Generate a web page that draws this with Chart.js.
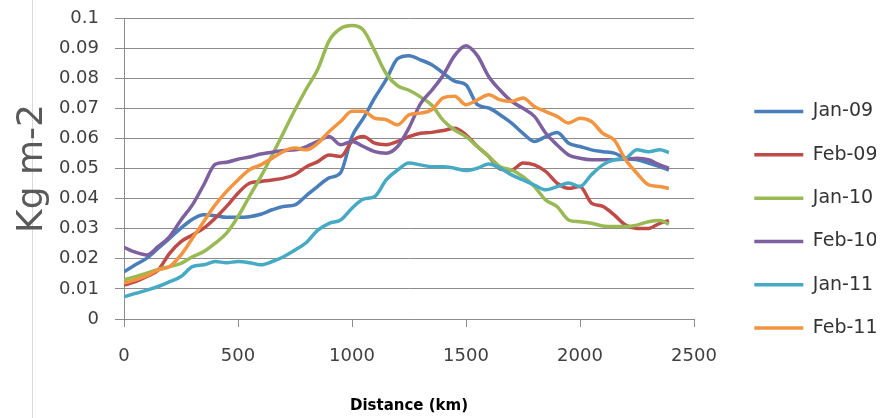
<!DOCTYPE html>
<html><head><meta charset="utf-8">
<script src="https://cdn.jsdelivr.net/npm/chart.js@4"></script>
<style>
html,body{margin:0;padding:0;background:#fff;}
#wrap{position:relative;width:889px;height:418px;}
#edge{position:absolute;left:32px;top:0;width:1px;height:418px;background:#d9d9d9;}
canvas{position:absolute;left:0;top:0;}
</style></head><body>
<div id="wrap"><div id="edge"></div><canvas id="c" width="889" height="418"></canvas></div>
<script>
const distanceKm = [0,50,100,150,200,250,300,350,400,450,500,550,600,650,700,750,800,850,900,950,1000,1050,1100,1150,1200,1250,1300,1350,1400,1450,1500,1550,1600,1650,1700,1750,1800,1850,1900,1950,2000,2050,2100,2150,2200,2250,2300,2350,2390];
const seriesNames = ['Jan-09','Feb-09','Jan-10','Feb-10','Jan-11','Feb-11'];
const seriesColors = ['#4A7EBB','#BE4B48','#98B954','#7D60A0','#46AAC5','#F39440'];
const jan09 = [0.0157,0.018,0.0202,0.0235,0.0268,0.0302,0.0331,0.0346,0.0343,0.0338,0.0338,0.034,0.0348,0.0363,0.0374,0.0379,0.041,0.0441,0.0469,0.0486,0.0606,0.0667,0.0735,0.0795,0.0865,0.0875,0.0861,0.0845,0.0817,0.079,0.0778,0.0712,0.0701,0.0678,0.0651,0.0617,0.059,0.0606,0.062,0.0584,0.0573,0.0562,0.0556,0.0551,0.0534,0.0529,0.0518,0.0506,0.0495];
const feb09 = [0.0113,0.0124,0.0141,0.0163,0.0218,0.0257,0.0279,0.0302,0.0335,0.0374,0.0418,0.0451,0.0457,0.0462,0.0468,0.048,0.0506,0.0523,0.0545,0.054,0.059,0.0606,0.0584,0.0579,0.059,0.0606,0.0617,0.062,0.0626,0.0634,0.0612,0.0573,0.054,0.0498,0.0495,0.0518,0.0512,0.049,0.0451,0.0434,0.044,0.0385,0.0374,0.0346,0.0312,0.0301,0.0301,0.0318,0.0327];
const jan10 = [0.013,0.0141,0.0152,0.0165,0.0174,0.0185,0.0207,0.0224,0.0252,0.0285,0.034,0.0407,0.0473,0.0545,0.062,0.0695,0.0765,0.083,0.0925,0.0965,0.0975,0.096,0.089,0.0815,0.0775,0.076,0.0738,0.071,0.066,0.0628,0.0606,0.0573,0.054,0.0506,0.0495,0.0473,0.044,0.0395,0.0373,0.0329,0.0323,0.0318,0.0309,0.0307,0.0307,0.0312,0.0323,0.0327,0.0315];
const feb10 = [0.0238,0.0222,0.0213,0.0241,0.0274,0.0329,0.0379,0.0446,0.0514,0.0521,0.0531,0.0538,0.0548,0.0554,0.056,0.0562,0.0573,0.059,0.0606,0.0579,0.059,0.0573,0.0556,0.0551,0.0573,0.0635,0.0715,0.076,0.081,0.0875,0.0908,0.0875,0.0805,0.076,0.0723,0.07,0.0673,0.0617,0.0578,0.0545,0.0534,0.0529,0.0529,0.0529,0.0531,0.0534,0.0529,0.0512,0.0501];
const jan11 = [0.0074,0.0085,0.0096,0.0108,0.0124,0.0141,0.0174,0.018,0.0191,0.0187,0.0191,0.0187,0.018,0.0191,0.0207,0.0229,0.0254,0.0295,0.0318,0.0329,0.0368,0.0398,0.0407,0.0462,0.0495,0.0518,0.0512,0.0506,0.0506,0.0501,0.0493,0.0501,0.0515,0.0501,0.0479,0.0462,0.0445,0.0429,0.044,0.0452,0.044,0.0479,0.0512,0.0529,0.0534,0.0562,0.0556,0.0562,0.0553];
const feb11 = [0.0119,0.013,0.0144,0.0163,0.0174,0.0213,0.0268,0.0324,0.0379,0.0424,0.0462,0.0496,0.0512,0.0534,0.0557,0.0568,0.0562,0.0584,0.0623,0.0656,0.069,0.069,0.0667,0.0662,0.0645,0.0678,0.0684,0.0695,0.0735,0.074,0.0712,0.0728,0.0745,0.0728,0.0723,0.0734,0.0706,0.0689,0.0673,0.0651,0.0667,0.0656,0.0617,0.0595,0.0529,0.0484,0.0446,0.044,0.0434];
const xTicks = [0,500,1000,1500,2000,2500];
const yTickLabels = ['0','0.01','0.02','0.03','0.04','0.05','0.06','0.07','0.08','0.09','0.1'];

const seriesValues = [jan09, feb09, jan10, feb10, jan11, feb11];
const FONT = 'DejaVu Sans';
const GRID = '#8c8c8c';

const datasets = seriesValues.map((vals, i) => ({
  label: seriesNames[i],
  data: distanceKm.map((d, j) => ({x: d, y: vals[j]})),
  borderColor: seriesColors[i],
  backgroundColor: seriesColors[i],
  borderWidth: 3.5,
  pointRadius: 0,
  cubicInterpolationMode: 'monotone',
  order: -i
}));

new Chart(document.getElementById('c'), {
  type: 'line',
  data: { datasets },
  options: {
    responsive: false,
    animation: false,
    layout: { padding: { top: 18, right: 13, bottom: 0, left: 0 } },
    plugins: {
      legend: {
        position: 'right',
        align: 'center',
        title: { display: true, text: ' ', font: { size: 3 }, padding: 0 },
        labels: {
          usePointStyle: true,
          pointStyle: 'line',
          pointStyleWidth: 49,
          padding: 24.3,
          color: '#333',
          font: { family: FONT, size: 19 },
          sort: (a, b) => a.datasetIndex - b.datasetIndex
        }
      },
      tooltip: { enabled: false }
    },
    scales: {
      x: {
        type: 'linear',
        min: xTicks[0],
        max: xTicks[xTicks.length - 1],
        afterBuildTicks: s => { s.ticks = xTicks.map(v => ({value: v})); },
        ticks: { callback: v => String(v), color: '#404040', font: { family: FONT, size: 18 }, padding: 19, maxRotation: 0, autoSkip: false },
        grid: { display: true, drawOnChartArea: false, drawTicks: true, tickLength: 8, color: GRID },
        border: { display: true, color: GRID },
        title: { display: true, text: 'Distance (km)', color: '#000', font: { family: FONT, size: 15, weight: 'bold' }, padding: { top: 0, bottom: 3 } },
        afterFit: s => { s.height = 99; }
      },
      y: {
        min: 0,
        max: 0.1,
        afterBuildTicks: s => { s.ticks = yTickLabels.map(t => ({value: parseFloat(t)})); },
        ticks: { callback: (v, i) => yTickLabels[i], color: '#404040', font: { family: FONT, size: 18 }, padding: 16 },
        grid: { color: GRID, tickLength: 9 },
        border: { display: true, color: GRID },
        title: { display: true, text: 'Kg m-2', color: '#595959', font: { family: FONT, size: 36 }, padding: { top: 11, bottom: 0 } },
        afterFit: s => { s.width = 124; s.paddingTop = 0; s.paddingBottom = 0; }
      },
      y2: {
        position: 'right',
        grid: { display: false },
        border: { display: false },
        ticks: { display: false },
        afterFit: s => { s.width = 36; s.paddingTop = 0; s.paddingBottom = 0; }
      }
    }
  }
});
</script>
</body></html>
